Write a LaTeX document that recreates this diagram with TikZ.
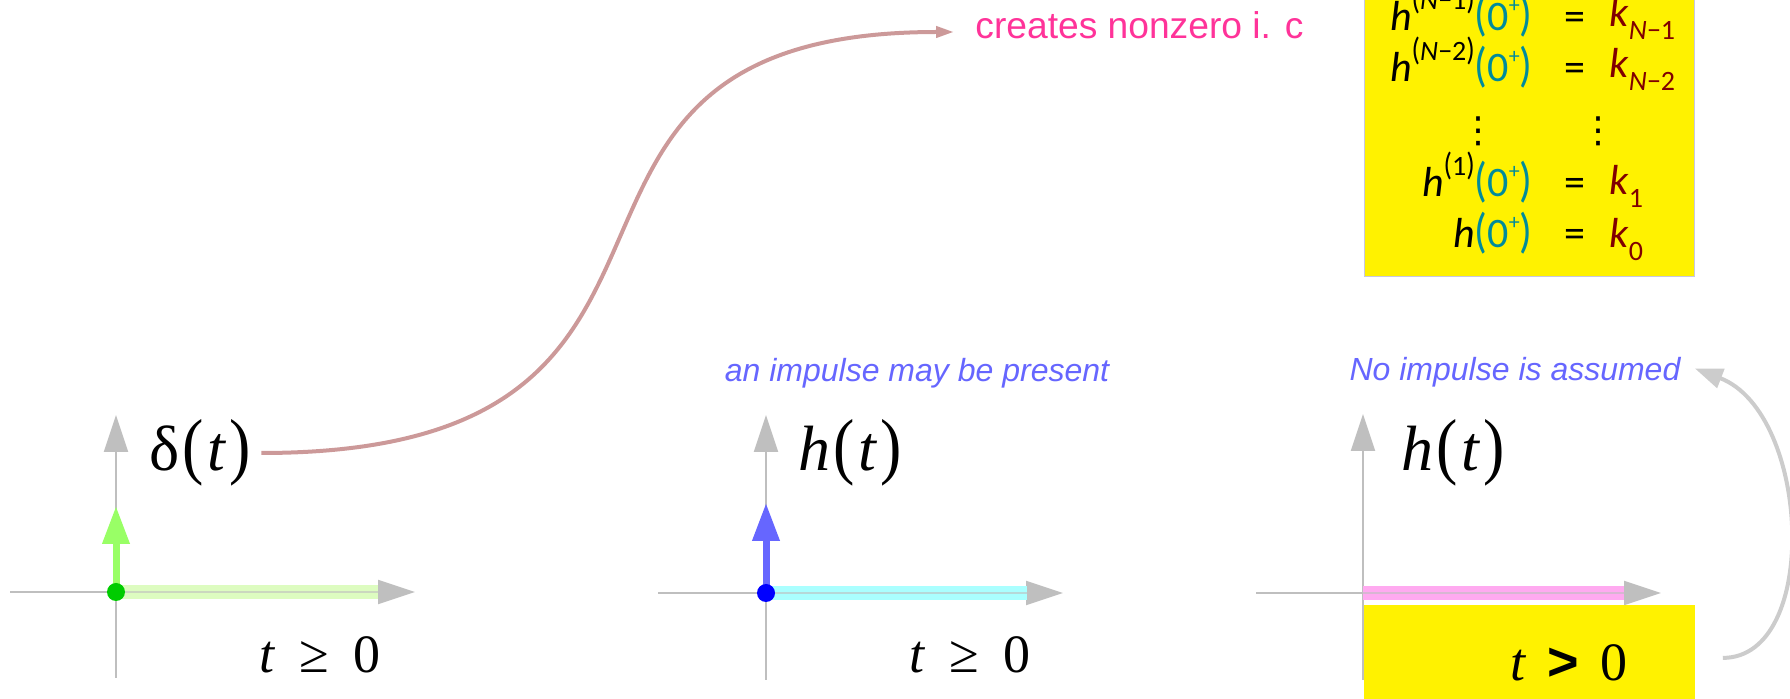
\documentclass[tikz,border=0pt]{standalone}
\usepackage{fontspec}
\usepackage{graphicx}
\setmainfont{Liberation Serif}
\newfontfamily\sansfnt{Liberation Sans}
\newfontfamily\boxfnt{Carlito}
\newfontfamily\dejafnt{DejaVu Sans}
\usetikzlibrary{arrows.meta}
\definecolor{axisgray}{HTML}{BFBFBF}
\definecolor{bandgreen}{HTML}{DDFCC0}
\definecolor{impgreen}{HTML}{99FF66}
\definecolor{dotgreen}{HTML}{00CC00}
\definecolor{bandcyan}{HTML}{AAFFFF}
\definecolor{impblue}{HTML}{6666FF}
\definecolor{dotblue}{HTML}{0000FF}
\definecolor{bandpink}{HTML}{FFAAF0}
\definecolor{noteblue}{HTML}{6666FF}
\definecolor{hotpink}{HTML}{FF3399}
\definecolor{rosy}{HTML}{CC9999}
\definecolor{curvegray}{HTML}{CCCCCC}
\definecolor{boxborder}{HTML}{C8C8E0}
\definecolor{zteal}{HTML}{008B9B}
\definecolor{kred}{HTML}{800000}
% tall parentheses for the big labels
\newcommand\lpar{\hspace{1.5pt}\scalebox{1}[1.15]{(}\hspace{2pt}}
\newcommand\rpar{\hspace{1.5pt}\scalebox{1}[1.15]{)}}
% box macros
\newcommand\bl{\scalebox{1}[1.15]{(}}
\newcommand\br{\scalebox{1}[1.15]{)}}
\newcommand\hsup[1]{\textit{h}\raisebox{0.5em}{\fontsize{14}{15}\selectfont\bl#1\br}}
\newcommand\zp{\textcolor{zteal}{\bl0\raisebox{0.45em}{\fontsize{11}{12}\selectfont+}\br}}
\newcommand\ksub[1]{\textcolor{kred}{\textit{k}\raisebox{-0.3em}{\fontsize{14}{15}\selectfont #1}}}
\tikzset{
  axis/.style={draw=axisgray, line width=1pt, -{Triangle[length=18.5pt,width=12pt]}},
  band/.style={line width=7pt},
  axisover/.style={draw=axisgray, line width=1pt, opacity=0.6},
  impulse/.style={line width=3.5pt, -{Triangle[length=19pt,width=13pt]}},
  biglbl/.style={inner sep=0pt, font=\fontsize{32}{36}\selectfont},
  condlbl/.style={inner sep=0pt, font=\fontsize{27}{30}\selectfont},
  note/.style={inner sep=0pt, text=noteblue, font=\sansfnt\itshape\fontsize{16}{18}\selectfont},
  eqtxt/.style={inner sep=0pt, font=\boxfnt\fontsize{21}{23}\selectfont},
  vdot/.style={inner sep=0pt, font=\dejafnt\fontsize{18}{18}\selectfont},
  conn/.style={draw=rosy, line width=2pt, -{Triangle[length=9pt,width=5.5pt]}},
  backconn/.style={draw=curvegray, line width=2pt, -{Triangle[length=14pt,width=10pt]}},
}
\begin{document}
\begin{tikzpicture}[x=0.5pt, y=-0.5pt]
\useasboundingbox (0,0) rectangle (1790,699);
\clip (0,0) rectangle (1790,699);

% ---------- panel 1 : delta(t)
\draw[axis] (116,678) -- (116,415);
\draw[axis] (10,592) -- (415,592);
\draw[band, bandgreen] (116,592) -- (378,592);
\draw[axisover] (116,592) -- (378,592);
\draw[impulse, impgreen] (116,592) -- (116,506);
\fill[dotgreen] (116,592) circle (4.5pt);
\node[biglbl] (delta) at (200,453) {δ\lpar\textit{t}\rpar};
\node[condlbl] (tge1) at (320,655) {\textit{t}\hspace{0.45em}≥\hspace{0.45em}0};

% ---------- panel 2 : h(t)
\draw[axis] (766,680) -- (766,415);
\draw[axis] (658,593) -- (1063,593);
\draw[band, bandcyan] (766,593) -- (1027,593);
\draw[axisover] (766,593) -- (1027,593);
\draw[impulse, impblue] (766,593) -- (766,503);
\fill[dotblue] (766,593) circle (4.5pt);
\node[biglbl] (ht2) at (850,453) {\textit{h}\lpar\textit{t}\rpar};
\node[condlbl] (tge2) at (970,655) {\textit{t}\hspace{0.45em}≥\hspace{0.45em}0};
\node[note] (imp2) at (917,373) {an impulse may be present};

% ---------- panel 3 : h(t), t>0
\node[fill=yellow, inner sep=0pt, minimum width=165.5pt, minimum height=52.5pt, anchor=north west] (gtbox) at (1364,605) {};
\draw[axis] (1363,680) -- (1363,414);
\draw[axis] (1256,593) -- (1661,593);
\draw[band, bandpink] (1363,593) -- (1624,593);
\draw[axisover] (1363,593) -- (1624,593);
\node[biglbl] (ht3) at (1453,453) {\textit{h}\lpar\textit{t}\rpar};
\node[condlbl] (tgt) at (1569,663) {\textit{t}\hspace{0.4em}{\sansfnt\bfseries >}\hspace{0.4em}0};
\node[note] (noimp) at (1515,372) {No impulse is assumed};

% ---------- initial-condition box
\node[fill=yellow, draw=boxborder, line width=0.5pt, inner sep=0pt, minimum width=165pt, minimum height=150pt, anchor=south west] (icbox) at (1364,277) {};
\node[eqtxt, anchor=base east] (l1) at (1533,31) {\hsup{\textit{N}−1}\zp};
\node[eqtxt, anchor=base] (e1) at (1575,31) {=};
\node[eqtxt, anchor=base west] (r1) at (1609,27) {\ksub{\textit{N}−1}};
\node[eqtxt, anchor=base east] (l2) at (1533,82) {\hsup{\textit{N}−2}\zp};
\node[eqtxt, anchor=base] (e2) at (1575,82) {=};
\node[eqtxt, anchor=base west] (r2) at (1609,78) {\ksub{\textit{N}−2}};
\node[vdot] (d1) at (1478,131) {⋮};
\node[vdot] (d2) at (1598,131) {⋮};
\node[eqtxt, anchor=base east] (l4) at (1533,197) {\hsup{1}\zp};
\node[eqtxt, anchor=base] (e4) at (1575,197) {=};
\node[eqtxt, anchor=base west] (r4) at (1609,195) {\ksub{1}};
\node[eqtxt, anchor=base east] (l5) at (1533,248) {\textit{h}\zp};
\node[eqtxt, anchor=base] (e5) at (1575,248) {=};
\node[eqtxt, anchor=base west] (r5) at (1609,248) {\ksub{0}};

% ---------- labels and connectors
\node[inner sep=0pt, anchor=west, text=hotpink, font=\sansfnt\fontsize{18.6}{22}\selectfont] (creates) at (975,25) {creates nonzero i. c};
\draw[conn, shorten <=5pt, shorten >=10.5pt] (delta.east) .. controls +(526,0) and +(-505,0) .. ([yshift=-3.5pt]creates.west);
\draw[backconn, shorten <=13.5pt, shorten >=7.5pt] (gtbox.east) .. controls +(125,0) and +(130,50) .. ([yshift=4.5pt]noimp.east);
\end{tikzpicture}
\end{document}
